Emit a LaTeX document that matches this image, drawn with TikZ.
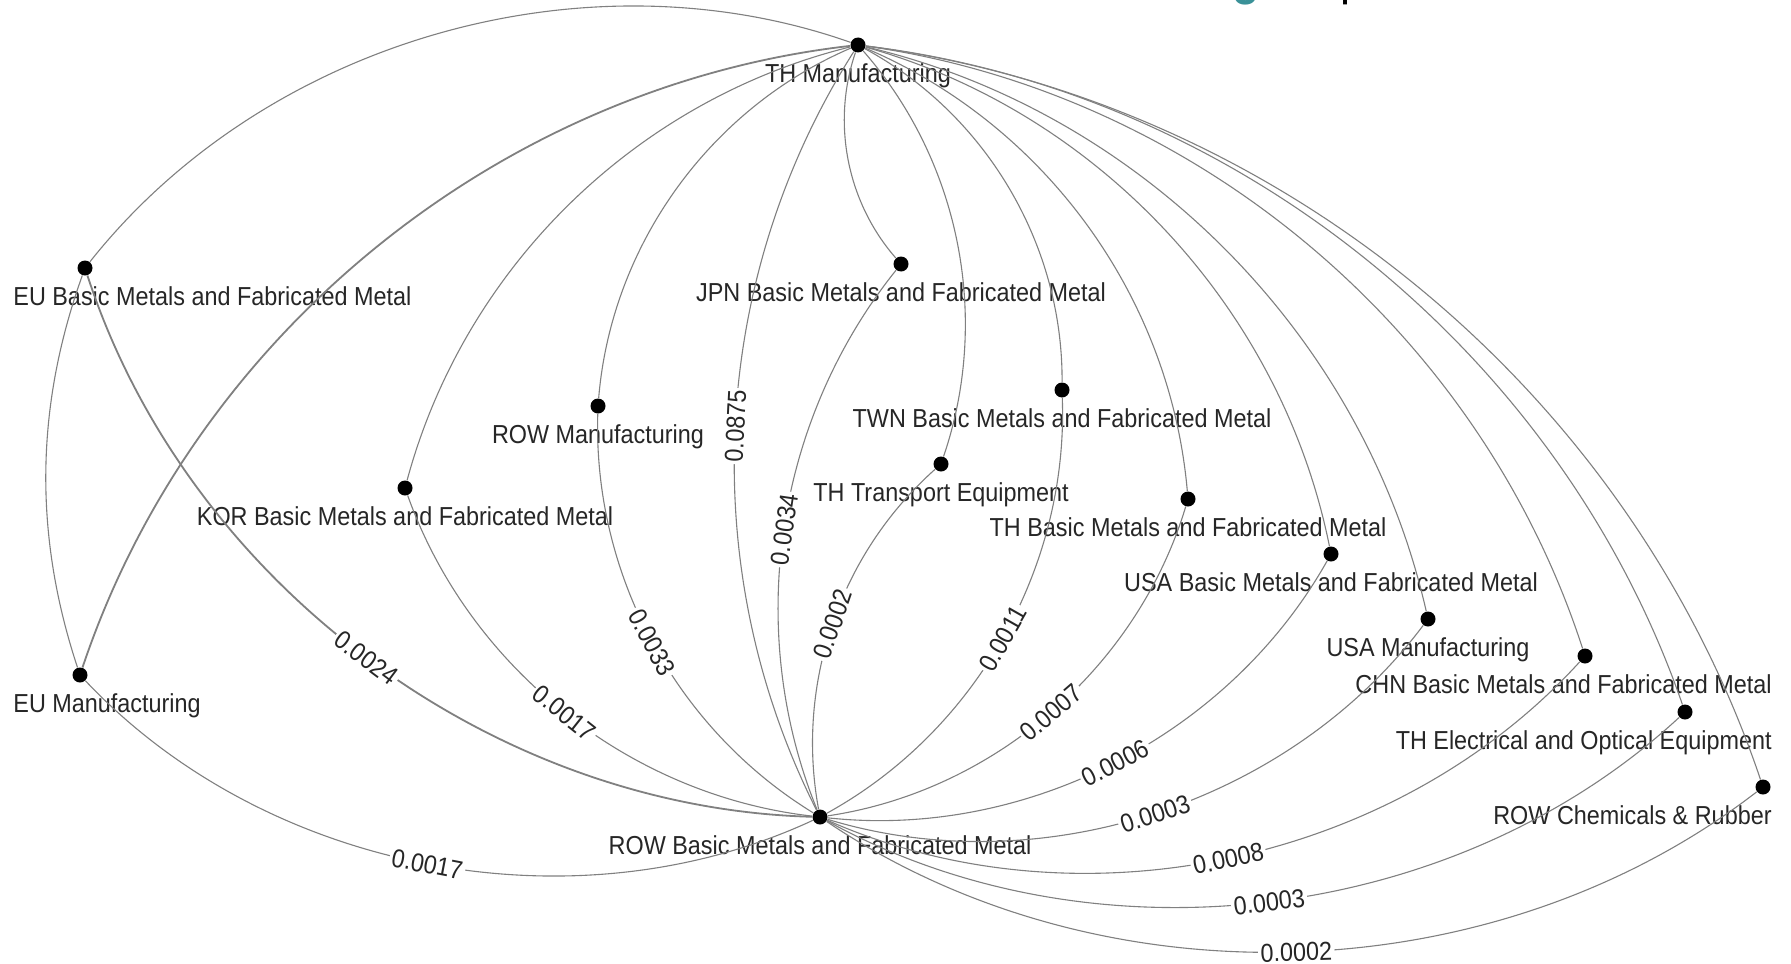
\documentclass[tikz,border=0pt]{standalone}
\usepackage{fontspec}
\setmainfont{Liberation Sans}[FakeStretch=0.9]
\usepackage{tikz}
\usetikzlibrary{positioning}
\definecolor{titleteal}{RGB}{58,145,152}
\tikzstyle{dot} = [circle, fill=black, inner sep=0pt, minimum size=7.5pt]
\tikzstyle{nodetext} = [inner sep=0pt, text=black!85, font=\fontsize{13}{15}\selectfont,
    text height=9.5pt, text depth=2.8pt]
\tikzstyle{link} = [draw=black!50, line width=0.55pt, looseness=0.91]
\tikzstyle{heavy} = [link, line width=0.9pt]
\tikzstyle{weight} = [fill=white, inner sep=1.2pt, sloped, text=black!85,
    font=\fontsize{13}{15}\selectfont, text height=9.3pt, text depth=0pt]

\begin{document}
\begin{tikzpicture}[x=0.5pt, y=0.5pt]
\useasboundingbox (0,0) rectangle (1791,-963);
\fill[white] (0,0) rectangle (1791,-963);

\node[inner sep=0pt, anchor=base west, text=titleteal, font=\fontsize{25}{25}\selectfont\bfseries] (ttl-g) at (1232,5) {g};
\node[inner sep=0pt, anchor=base west, font=\fontsize{25}{25}\selectfont] (ttl-p) at (1340,5) {p};

\node[dot] (thman) at (858,-45) {};
\node[dot] (eubm) at (85,-268) {};
\node[dot] (jpnbm) at (901,-264) {};
\node[dot] (rowm) at (598,-406) {};
\node[dot] (twnbm) at (1062,-390) {};
\node[dot] (korbm) at (405,-488) {};
\node[dot] (thtr) at (941,-464) {};
\node[dot] (thbm) at (1188,-499) {};
\node[dot] (usabm) at (1331,-554) {};
\node[dot] (usam) at (1428,-619) {};
\node[dot] (chnbm) at (1585,-656) {};
\node[dot] (thel) at (1685,-712) {};
\node[dot] (rowch) at (1763,-787) {};
\node[dot] (eum) at (80,-675) {};
\node[dot] (rowbm) at (820,-817) {};

\node[nodetext, below=9.25pt of thman.center] (thman-t) {TH Manufacturing};
\node[nodetext, anchor=base west] (eubm-t) at (13,-305.5) {EU Basic Metals and Fabricated Metal};
\node[nodetext, below=9.25pt of jpnbm.center] (jpnbm-t) {JPN Basic Metals and Fabricated Metal};
\node[nodetext, below=9.25pt of rowm.center] (rowm-t) {ROW Manufacturing};
\node[nodetext, below=9.25pt of twnbm.center] (twnbm-t) {TWN Basic Metals and Fabricated Metal};
\node[nodetext, below=9.25pt of korbm.center] (korbm-t) {KOR Basic Metals and Fabricated Metal};
\node[nodetext, below=9.25pt of thtr.center] (thtr-t) {TH Transport Equipment};
\node[nodetext, below=9.25pt of thbm.center] (thbm-t) {TH Basic Metals and Fabricated Metal};
\node[nodetext, below=9.25pt of usabm.center] (usabm-t) {USA Basic Metals and Fabricated Metal};
\node[nodetext, below=9.25pt of usam.center] (usam-t) {USA Manufacturing};
\node[nodetext, anchor=base east] (chnbm-t) at (1772,-693.5) {CHN Basic Metals and Fabricated Metal};
\node[nodetext, anchor=base east] (thel-t) at (1772,-749.5) {TH Electrical and Optical Equipment};
\node[nodetext, anchor=base east] (rowch-t) at (1772,-824.5) {ROW Chemicals \& Rubber};
\node[nodetext, anchor=base west] (eum-t) at (13,-712.5) {EU Manufacturing};
\node[nodetext, below=9.25pt of rowbm.center] (rowbm-t) {ROW Basic Metals and Fabricated Metal};

\draw[link] (thman) to[bend right=35.5] (eubm);
\draw[heavy] (thman) to[bend right=32.5] (eum);
\draw[link] (thman) to[bend right=30.5] (korbm);
\draw[link] (thman) to[bend right=31] (rowm);
\draw[link] (thman) to[bend right=30] (jpnbm);
\draw[link] (thman) to[bend left=30] (thtr);
\draw[link] (thman) to[bend left=31] (twnbm);
\draw[link] (thman) to[bend left=31] (thbm);
\draw[link] (thman) to[bend left=31.5] (usabm);
\draw[link] (thman) to[bend left=32] (usam);
\draw[link] (thman) to[bend left=32] (chnbm);
\draw[link] (thman) to[bend left=32] (thel);
\draw[link] (thman) to[bend left=32] (rowch);
\draw[link] (eubm) to[bend right=19] (eum);

\draw[heavy] (rowbm) to[bend left=35.2] node[weight] (w-eubm) {0.0024} (eubm);
\draw[link] (rowbm) to[bend left=35.8] node[weight] (w-eum) {0.0017} (eum);
\draw[link] (rowbm) to[bend left=31.9] node[weight] (w-korbm) {0.0017} (korbm);
\draw[link] (rowbm) to[bend left=30.1] node[weight] (w-rowm) {0.0033} (rowm);
\draw[link] (rowbm) to[bend left=29.6] node[weight] (w-thman) {0.0875} (thman);
\draw[link] (rowbm) to[bend left=30.4] node[weight] (w-jpnbm) {0.0034} (jpnbm);
\draw[link] (rowbm) to[bend left=29.4] node[weight] (w-thtr) {0.0002} (thtr);
\draw[link] (rowbm) to[bend right=31.6] node[weight] (w-twnbm) {0.0011} (twnbm);
\draw[link] (rowbm) to[bend right=32.4] node[weight] (w-thbm) {0.0007} (thbm);
\draw[link] (rowbm) to[bend right=33.4] node[weight] (w-usabm) {0.0006} (usabm);
\draw[link] (rowbm) to[bend right=35] node[weight] (w-usam) {0.0003} (usam);
\draw[link] (rowbm) to[bend right=35.8] node[weight] (w-chnbm) {0.0008} (chnbm);
\draw[link] (rowbm) to[bend right=35.8] node[weight] (w-thel) {0.0003} (thel);
\draw[link] (rowbm) to[bend right=35.8] node[weight] (w-rowch) {0.0002} (rowch);

\end{tikzpicture}
\end{document}
